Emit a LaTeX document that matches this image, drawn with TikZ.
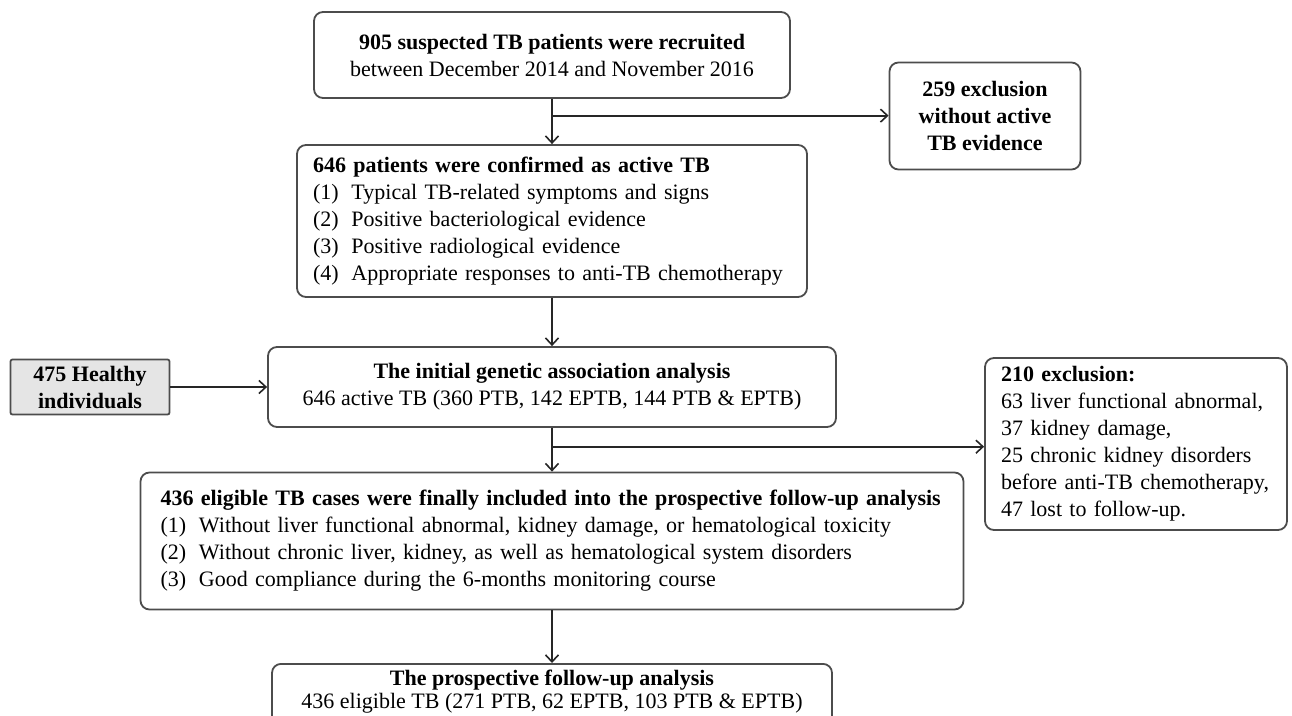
\documentclass[tikz,border=0pt]{standalone}
\usepackage{fontspec}
\setmainfont{Liberation Serif}
\usetikzlibrary{arrows.meta,calc}

\newcommand{\numitem}[1]{\makebox[1.75em][l]{#1}}

\begin{document}
\begin{tikzpicture}[x=1pt,y=-1pt,
    box/.style={draw=black!70, line width=1.8pt, rounded corners=9pt, inner sep=0pt, font=\fontsize{22}{27}\selectfont},
    arr/.style={-{Straight Barb[length=7pt,width=13pt,line width=1.6pt]}, line width=2pt, draw=black!85}]
  \useasboundingbox (0,0) rectangle (1292,715);
  \clip (0,0) rectangle (1292,715);
  % main column
  \node[box, minimum width=476pt, minimum height=86pt, align=center] (rec) at (552,55)
    {\textbf{905 suspected TB patients were recruited}\\between December 2014 and November 2016};
  \node[box, minimum width=191pt, minimum height=107pt, align=center] (excla) at (985,116)
    {\textbf{259 exclusion}\\\textbf{without active}\\\textbf{TB evidence}};
  \node[box, minimum height=152pt, text width=478pt, inner xsep=16pt, align=left] (conf) at (552,221)
    {\textbf{646 patients were confirmed as active TB}\\
     \numitem{(1)}Typical TB-related symptoms and signs\\
     \numitem{(2)}Positive bacteriological evidence\\
     \numitem{(3)}Positive radiological evidence\\
     \numitem{(4)}Appropriate responses to anti-TB chemotherapy};
  \node[box, minimum width=568pt, minimum height=80pt, align=center] (init) at (552,387)
    {\textbf{The initial genetic association analysis}\\646 active TB (360 PTB, 142 EPTB, 144 PTB \& EPTB)};
  \node[box, rounded corners=2pt, fill=black!10, minimum width=159pt, minimum height=55pt, align=center] (hlth) at (90,387)
    {\textbf{475 Healthy}\\\textbf{individuals}};
  \node[box, minimum height=172pt, text width=270pt, inner xsep=16pt, align=left] (exclb) at (1136,444)
    {\textbf{210 exclusion:}\\
     63 liver functional abnormal,\\
     37 kidney damage,\\
     25 chronic kidney disorders\\
     before anti-TB chemotherapy,\\
     47 lost to follow-up.};
  \node[box, minimum height=137pt, text width=783pt, inner xsep=20pt, align=left] (incl) at (552,541)
    {\textbf{436 eligible TB cases were finally included into the prospective follow-up analysis}\\
     \numitem{(1)}Without liver functional abnormal, kidney damage, or hematological toxicity\\
     \numitem{(2)}Without chronic liver, kidney, as well as hematological system disorders\\
     \numitem{(3)}Good compliance during the 6-months monitoring course};
  % last box runs past the lower edge
  \node[box, anchor=north, minimum width=560pt, inner ysep=6pt, align=center,
        font=\fontsize{22}{23}\selectfont] (fu) at (552,663)
    {\textbf{The prospective follow-up analysis}\\436 eligible TB (271 PTB, 62 EPTB, 103 PTB \& EPTB)\rule[-14pt]{0pt}{14pt}};
  % connectors
  \coordinate (bra) at ($(rec.south)!0.37!(conf.north)$);
  \coordinate (brb) at ($(init.south)!0.43!(incl.north)$);
  \draw[arr] (rec.south) -- (conf.north);
  \draw[arr] (bra) -- (bra -| excla.west);
  \draw[arr] (conf.south) -- (init.north);
  \draw[arr] (hlth.east) -- (hlth.east -| init.west);
  \draw[arr] (init.south) -- (incl.north);
  \draw[arr] (brb) -- (brb -| exclb.west);
  \draw[arr] (incl.south) -- (fu.north);
\end{tikzpicture}
\end{document}
